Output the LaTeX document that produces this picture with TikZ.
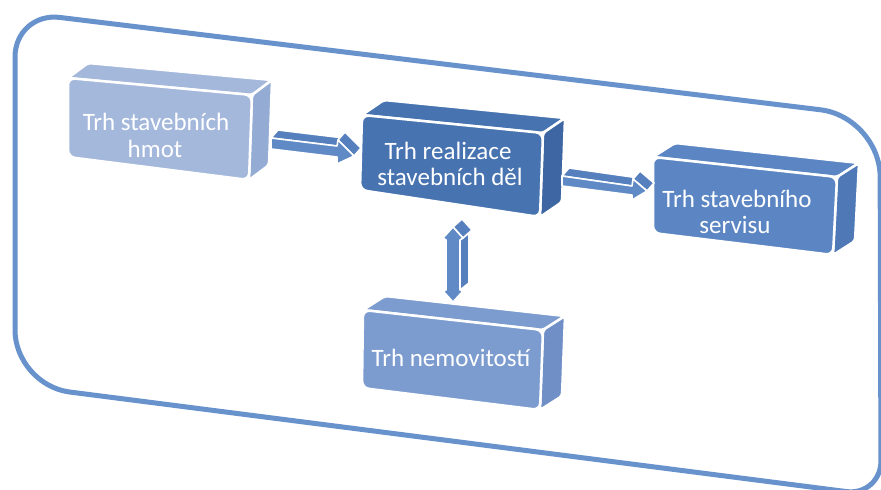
\documentclass[tikz,border=0pt]{standalone}
\usepackage{fontspec}
\setmainfont{Carlito}
\usetikzlibrary{calc}
\definecolor{framec}{HTML}{6892CC}
\definecolor{cA}{HTML}{A4B8DC}
\definecolor{cAr}{HTML}{94ABD4}
\definecolor{cB}{HTML}{4773B0}
\definecolor{cBr}{HTML}{3D66A2}
\definecolor{cC}{HTML}{5B86C3}
\definecolor{cCr}{HTML}{4F79B6}
\definecolor{cD}{HTML}{7C9CCF}
\definecolor{cDr}{HTML}{6F8FC6}
\definecolor{arrc}{HTML}{5F8AC6}
\definecolor{arrs}{HTML}{557FBD}
\tikzset{
  face/.style={draw=white, line width=2.5pt, line join=round},
  boxtext/.style={text=white, font=\fontsize{25}{27}\selectfont, inner sep=0pt},
  arrface/.style={fill=arrc, draw=white, line width=1.6pt, line join=round},
  arrside/.style={fill=arrs, draw=white, line width=1.6pt, line join=round},
  framestyle/.style={draw=framec, line width=5pt}
}
\newcommand\mycube[8]{%
  \coordinate (#1tl) at (#2);
  \coordinate (#1tr) at (#3);
  \coordinate (#1br) at (#4);
  \coordinate (#1bl) at (#5);
  \path[face, fill=#7, rounded corners=3pt] (#1tl) -- (#1tr) -- ($(#1tr)+(#6)$) -- ($(#1tl)+(#6)$) -- cycle;
  \path[face, fill=#8, rounded corners=3pt] (#1tr) -- (#1br) -- ($(#1br)+(#6)$) -- ($(#1tr)+(#6)$) -- cycle;
  \path[face, fill=#7, rounded corners=7pt] (#1tl) -- (#1tr) -- (#1br) -- (#1bl) -- cycle;
}
\begin{document}
\begin{tikzpicture}[x=1pt,y=-1pt]
\useasboundingbox (0,0) rectangle (881,490);

% outer frame
\draw[framestyle] (450,64.8) [rounded corners=60pt] -- (880,117) [rounded corners=35pt] -- (881,496) [rounded corners=55pt] -- (15,385) [rounded corners=45pt] -- (15,12) -- cycle;

% boxes
\mycube{bA}{68,78}{252,95}{249,180}{68,157}{20,-15}{cA}{cAr}
\mycube{bB}{362,115}{543,133}{540,217}{360,190}{22,-15}{cB}{cBr}
\mycube{bC}{653,157}{837,177}{833,255}{653,233}{22,-14}{cC}{cCr}
\mycube{bD}{363,310}{543,330}{540,410}{362,388}{22,-14}{cD}{cDr}

\node[boxtext] (tA1) at (156,122) {Trh stavebních};
\node[boxtext] (tA2) at (155,149) {hmot};
\node[boxtext] (tB1) at (448,151) {Trh realizace};
\node[boxtext] (tB2) at (450,177) {stavebních děl};
\node[boxtext] (tC1) at (737,199) {Trh stavebního};
\node[boxtext] (tC2) at (735,225) {servisu};
\node[boxtext] (tD) at (451,358) {Trh nemovitostí};

% arrow A: hmoty -> realizace
\coordinate (a1) at (271,138);
\coordinate (a2) at (337,146);
\coordinate (a3) at (338,140);
\coordinate (a4) at (354,156);
\coordinate (a5) at (337,164);
\coordinate (a6) at (337,157);
\coordinate (a7) at (271,149);
\path[arrside] (a1) -- (a2) -- ($(a2)+(7,-8)$) -- ($(a1)+(7,-8)$) -- cycle;
\path[arrside] (a3) -- (a4) -- ($(a4)+(7,-8)$) -- ($(a3)+(7,-8)$) -- cycle;
\path[arrface] (a1) -- (a2) -- (a3) -- (a4) -- (a5) -- (a6) -- (a7) -- cycle;

% arrow B: realizace -> servis
\coordinate (b1) at (562,176);
\coordinate (b2) at (632,186);
\coordinate (b3) at (633,179);
\coordinate (b4) at (647,191);
\coordinate (b5) at (632,200);
\coordinate (b6) at (632,195);
\coordinate (b7) at (562,186);
\path[arrside] (b1) -- (b2) -- ($(b2)+(7,-8)$) -- ($(b1)+(7,-8)$) -- cycle;
\path[arrside] (b3) -- (b4) -- ($(b4)+(7,-8)$) -- ($(b3)+(7,-8)$) -- cycle;
\path[arrface] (b1) -- (b2) -- (b3) -- (b4) -- (b5) -- (b6) -- (b7) -- cycle;

% arrow C: realizace <-> nemovitosti
\coordinate (c1) at (453,227);
\coordinate (c2) at (463,238);
\coordinate (c3) at (460,240);
\coordinate (c4) at (460,290);
\coordinate (c5) at (463,291);
\coordinate (c6) at (453,302);
\coordinate (c7) at (443,291);
\coordinate (c8) at (446,290);
\coordinate (c9) at (446,240);
\coordinate (c10) at (443,238);
\path[arrside] (c3) -- (c4) -- ($(c4)+(9,-7)$) -- ($(c3)+(9,-7)$) -- cycle;
\path[arrside] (c1) -- (c2) -- ($(c2)+(9,-8)$) -- ($(c1)+(9,-8)$) -- cycle;
\path[arrface] (c1) -- (c2) -- (c3) -- (c4) -- (c5) -- (c6) -- (c7) -- (c8) -- (c9) -- (c10) -- cycle;
\end{tikzpicture}
\end{document}
